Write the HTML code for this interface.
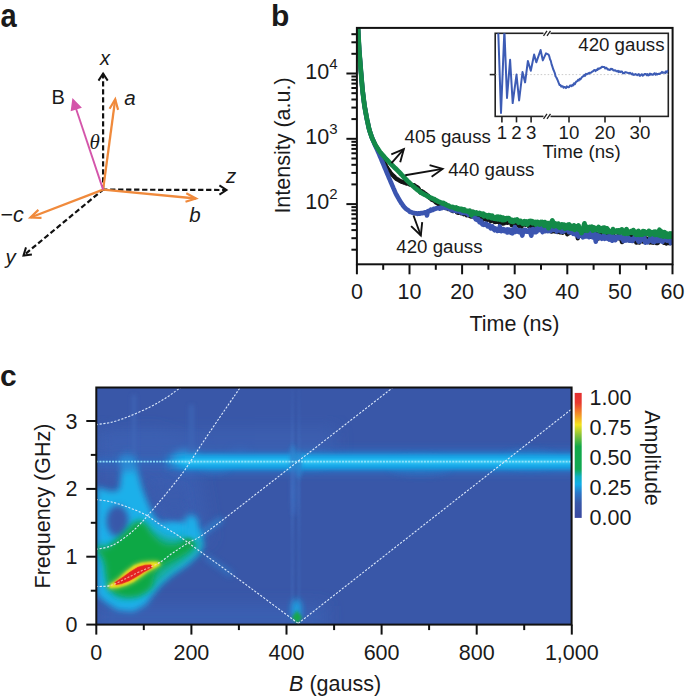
<!DOCTYPE html>
<html><head><meta charset="utf-8"><style>
html,body{margin:0;padding:0;background:#fff;width:685px;height:696px;overflow:hidden}
svg{display:block}
text{font-family:"Liberation Sans",sans-serif;fill:#1a1a1a}
</style></head><body>
<svg width="685" height="696" viewBox="0 0 685 696">
<defs>
<clipPath id="clipb"><rect x="356.9" y="27.9" width="315.70000000000005" height="236.4"/></clipPath>
<clipPath id="clipi"><rect x="495.2" y="33.3" width="173.09999999999997" height="83.10000000000001"/></clipPath>
<clipPath id="clipc"><rect x="96.3" y="387.5" width="475.3" height="237.10000000000002"/></clipPath>
</defs>
<line x1="103.1" y1="189.6" x2="103.1" y2="73.5" stroke="#111" stroke-width="2.2" stroke-dasharray="5.3,2.7" stroke-dashoffset="1"/>
<path d="M107.7,80.6 L103.1,73.5 L98.5,80.6" fill="none" stroke="#111" stroke-width="2" stroke-linejoin="miter" stroke-linecap="butt"/>
<line x1="103.1" y1="189.6" x2="226.5" y2="190" stroke="#111" stroke-width="2.2" stroke-dasharray="5.3,2.7" stroke-dashoffset="1"/>
<path d="M219.4,194.6 L226.5,190.0 L219.4,185.3" fill="none" stroke="#111" stroke-width="2" stroke-linejoin="miter" stroke-linecap="butt"/>
<line x1="103.1" y1="189.6" x2="23.5" y2="255.5" stroke="#111" stroke-width="2.2" stroke-dasharray="5.3,2.7" stroke-dashoffset="1"/>
<path d="M26.0,247.4 L23.5,255.5 L31.9,254.5" fill="none" stroke="#111" stroke-width="2" stroke-linejoin="miter" stroke-linecap="butt"/>
<line x1="103.1" y1="189.6" x2="115.2" y2="99.3" stroke="#f08a3c" stroke-width="2.3"/>
<path d="M118.1,109.9 L115.2,99.3 L109.6,108.8" fill="none" stroke="#f08a3c" stroke-width="2.2" stroke-linejoin="miter" stroke-linecap="butt"/>
<line x1="103.1" y1="189.6" x2="196" y2="198.5" stroke="#f08a3c" stroke-width="2.3"/>
<path d="M185.5,201.8 L196.0,198.5 L186.3,193.3" fill="none" stroke="#f08a3c" stroke-width="2.2" stroke-linejoin="miter" stroke-linecap="butt"/>
<line x1="103.1" y1="189.6" x2="30.5" y2="217.5" stroke="#f08a3c" stroke-width="2.3"/>
<path d="M38.4,209.9 L30.5,217.5 L41.5,217.9" fill="none" stroke="#f08a3c" stroke-width="2.2" stroke-linejoin="miter" stroke-linecap="butt"/>
<line x1="103.1" y1="189.6" x2="73.3" y2="100.5" stroke="#d455aa" stroke-width="1.9"/>
<path d="M80.4,107.3 L73.0,99.8 L71.6,110.2 Z" fill="#d455aa" stroke="#d455aa" stroke-width="1.6" stroke-linejoin="miter"/>
<text transform="translate(0.6,27) scale(0.97,1.12)" font-size="30" font-weight="bold">a</text>
<text x="100" y="64.5" font-size="20" text-anchor="start" font-style="italic">x</text>
<text x="51.5" y="103.5" font-size="20" text-anchor="start" >B</text>
<text x="124.3" y="104.5" font-size="20.5" text-anchor="start" font-style="italic">a</text>
<text x="89.5" y="149.3" style="font-family:'Liberation Serif',serif;font-style:italic;font-size:21px">θ</text>
<text x="226" y="182.5" font-size="20.5" text-anchor="start" font-style="italic">z</text>
<text x="189.3" y="222" font-size="20.5" text-anchor="start" font-style="italic">b</text>
<text x="0.5" y="221.5" font-size="21.5" text-anchor="start" >−<tspan font-style="italic">c</tspan></text>
<text x="5.5" y="264" font-size="20.5" text-anchor="start" font-style="italic">y</text>
<text x="271" y="25.5" font-size="30" text-anchor="start" font-weight="bold">b</text>
<line x1="356.9" y1="264.3" x2="356.9" y2="274.3" stroke="#111" stroke-width="2"/>
<text x="356.9" y="299.3" font-size="21.5" text-anchor="middle" >0</text>
<line x1="383.2" y1="264.3" x2="383.2" y2="269.8" stroke="#111" stroke-width="2"/>
<line x1="409.5" y1="264.3" x2="409.5" y2="274.3" stroke="#111" stroke-width="2"/>
<text x="409.5" y="299.3" font-size="21.5" text-anchor="middle" >10</text>
<line x1="435.8" y1="264.3" x2="435.8" y2="269.8" stroke="#111" stroke-width="2"/>
<line x1="462.1" y1="264.3" x2="462.1" y2="274.3" stroke="#111" stroke-width="2"/>
<text x="462.1" y="299.3" font-size="21.5" text-anchor="middle" >20</text>
<line x1="488.4" y1="264.3" x2="488.4" y2="269.8" stroke="#111" stroke-width="2"/>
<line x1="514.7" y1="264.3" x2="514.7" y2="274.3" stroke="#111" stroke-width="2"/>
<text x="514.7" y="299.3" font-size="21.5" text-anchor="middle" >30</text>
<line x1="541.0" y1="264.3" x2="541.0" y2="269.8" stroke="#111" stroke-width="2"/>
<line x1="567.3" y1="264.3" x2="567.3" y2="274.3" stroke="#111" stroke-width="2"/>
<text x="567.3" y="299.3" font-size="21.5" text-anchor="middle" >40</text>
<line x1="593.6" y1="264.3" x2="593.6" y2="269.8" stroke="#111" stroke-width="2"/>
<line x1="619.9" y1="264.3" x2="619.9" y2="274.3" stroke="#111" stroke-width="2"/>
<text x="619.9" y="299.3" font-size="21.5" text-anchor="middle" >50</text>
<line x1="646.2" y1="264.3" x2="646.2" y2="269.8" stroke="#111" stroke-width="2"/>
<line x1="672.5" y1="264.3" x2="672.5" y2="274.3" stroke="#111" stroke-width="2"/>
<text x="672.5" y="299.3" font-size="21.5" text-anchor="middle" >60</text>
<line x1="351.4" y1="249.7" x2="356.9" y2="249.7" stroke="#111" stroke-width="2"/>
<line x1="351.4" y1="238.2" x2="356.9" y2="238.2" stroke="#111" stroke-width="2"/>
<line x1="351.4" y1="230.1" x2="356.9" y2="230.1" stroke="#111" stroke-width="2"/>
<line x1="351.4" y1="223.8" x2="356.9" y2="223.8" stroke="#111" stroke-width="2"/>
<line x1="351.4" y1="218.6" x2="356.9" y2="218.6" stroke="#111" stroke-width="2"/>
<line x1="351.4" y1="214.2" x2="356.9" y2="214.2" stroke="#111" stroke-width="2"/>
<line x1="351.4" y1="210.4" x2="356.9" y2="210.4" stroke="#111" stroke-width="2"/>
<line x1="351.4" y1="207.1" x2="356.9" y2="207.1" stroke="#111" stroke-width="2"/>
<line x1="346.4" y1="204.1" x2="356.9" y2="204.1" stroke="#111" stroke-width="2"/>
<line x1="351.4" y1="184.4" x2="356.9" y2="184.4" stroke="#111" stroke-width="2"/>
<line x1="351.4" y1="172.9" x2="356.9" y2="172.9" stroke="#111" stroke-width="2"/>
<line x1="351.4" y1="164.8" x2="356.9" y2="164.8" stroke="#111" stroke-width="2"/>
<line x1="351.4" y1="158.5" x2="356.9" y2="158.5" stroke="#111" stroke-width="2"/>
<line x1="351.4" y1="153.3" x2="356.9" y2="153.3" stroke="#111" stroke-width="2"/>
<line x1="351.4" y1="148.9" x2="356.9" y2="148.9" stroke="#111" stroke-width="2"/>
<line x1="351.4" y1="145.1" x2="356.9" y2="145.1" stroke="#111" stroke-width="2"/>
<line x1="351.4" y1="141.8" x2="356.9" y2="141.8" stroke="#111" stroke-width="2"/>
<line x1="346.4" y1="138.8" x2="356.9" y2="138.8" stroke="#111" stroke-width="2"/>
<line x1="351.4" y1="119.1" x2="356.9" y2="119.1" stroke="#111" stroke-width="2"/>
<line x1="351.4" y1="107.6" x2="356.9" y2="107.6" stroke="#111" stroke-width="2"/>
<line x1="351.4" y1="99.5" x2="356.9" y2="99.5" stroke="#111" stroke-width="2"/>
<line x1="351.4" y1="93.2" x2="356.9" y2="93.2" stroke="#111" stroke-width="2"/>
<line x1="351.4" y1="88.0" x2="356.9" y2="88.0" stroke="#111" stroke-width="2"/>
<line x1="351.4" y1="83.6" x2="356.9" y2="83.6" stroke="#111" stroke-width="2"/>
<line x1="351.4" y1="79.8" x2="356.9" y2="79.8" stroke="#111" stroke-width="2"/>
<line x1="351.4" y1="76.5" x2="356.9" y2="76.5" stroke="#111" stroke-width="2"/>
<line x1="346.4" y1="73.5" x2="356.9" y2="73.5" stroke="#111" stroke-width="2"/>
<line x1="351.4" y1="53.8" x2="356.9" y2="53.8" stroke="#111" stroke-width="2"/>
<line x1="351.4" y1="42.3" x2="356.9" y2="42.3" stroke="#111" stroke-width="2"/>
<line x1="351.4" y1="34.2" x2="356.9" y2="34.2" stroke="#111" stroke-width="2"/>
<text x="305.3" y="78.5" font-size="21.5">10<tspan dy="-9.3" font-size="15">4</tspan></text>
<text x="305.3" y="143.5" font-size="21.5">10<tspan dy="-9.3" font-size="15">3</tspan></text>
<text x="305.3" y="208.5" font-size="21.5">10<tspan dy="-9.3" font-size="15">2</tspan></text>
<text x="514.5" y="330.7" font-size="21.5" text-anchor="middle" >Time (ns)</text>
<text transform="translate(289.5,145.5) rotate(-90)" font-size="21.5" text-anchor="middle">Intensity (a.u.)</text>
<g clip-path="url(#clipb)">
<polyline points="358.0,27.9 358.6,39.0 359.2,50.0 359.8,57.5 360.4,65.0 361.0,72.4 361.6,79.4 362.2,86.5 362.8,92.4 363.4,97.1 364.0,101.9 364.6,106.4 365.2,109.7 365.8,113.0 366.4,116.3 367.0,119.4 367.6,122.1 368.2,124.9 368.8,127.7 369.4,130.1 370.0,131.9 370.6,133.8 371.2,135.6 371.8,137.4 372.4,138.8 373.0,140.1 373.6,141.3 374.2,142.6 374.8,143.8 375.4,145.1 376.0,146.2 376.6,147.2 377.2,148.3 377.8,149.4 378.4,150.4 379.0,151.5 379.6,152.7 380.2,154.0 380.8,155.2 381.4,156.5 382.0,157.7 382.6,158.9 383.2,160.1 383.8,161.3 384.4,162.6 385.0,163.8 385.6,165.0 386.2,166.2 386.8,167.3 387.4,168.2 388.0,169.1 388.6,170.0 389.2,170.8 389.8,171.7 390.4,172.6 391.0,173.5 391.6,174.1 392.2,174.7 392.8,175.3 393.4,175.9 394.0,176.5 394.6,177.0 395.2,177.7 395.8,178.3 396.4,178.8 397.0,179.2 397.6,179.4 398.2,179.8 398.8,180.1 399.4,180.6 400.0,180.9 400.8,181.2 401.5,181.7 402.3,181.8 403.0,182.1 403.8,182.5 404.5,182.5 405.3,182.9 406.0,183.3 406.8,183.6 407.5,183.6 408.3,183.6 409.0,183.8 409.8,184.4 410.5,184.7 411.3,184.8 412.0,185.0 412.8,185.4 413.5,185.3 414.3,185.3 415.0,185.9 415.8,186.6 416.5,186.9 417.3,187.2 418.0,187.9 418.8,189.0 419.5,191.1 420.3,192.4 421.0,191.3 421.8,191.2 422.5,192.1 423.3,192.1 424.0,192.8 424.8,194.0 425.5,193.8 426.3,194.4 427.0,195.4 427.8,195.4 428.5,196.4 429.3,197.7 430.0,197.8 430.8,198.6 431.5,199.5 432.3,200.1 433.0,200.1 433.8,200.4 434.5,200.9 435.3,201.8 436.0,202.6 436.8,202.7 437.5,203.5 438.3,203.8 439.0,204.9 439.8,204.7 440.5,205.2 441.3,206.2 442.0,205.9 442.8,205.6 443.5,206.3 444.3,207.4 445.0,206.4 445.8,207.5 446.5,207.8 447.3,208.1 448.0,209.0 448.8,208.2 449.5,208.4 450.3,209.3 451.0,209.2 451.8,210.5 452.5,210.8 453.3,211.1 454.0,210.1 454.8,210.6 455.5,210.1 456.3,210.8 457.0,212.4 457.8,212.6 458.5,212.8 459.3,211.5 460.0,211.6 460.8,212.7 461.5,213.4 462.3,213.2 463.0,212.1 463.8,214.2 464.5,214.0 465.3,212.9 466.0,213.5 466.8,215.2 467.5,214.0 468.3,215.0 469.0,213.8 469.8,215.9 470.5,214.2 471.3,216.5 472.0,215.1 472.8,211.8 473.5,216.0 474.3,215.9 475.0,217.1 475.8,215.8 476.5,216.0 477.3,216.3 478.0,216.1 478.8,216.8 479.5,217.6 480.3,217.3 481.0,217.7 481.8,220.9 482.5,218.8 483.3,219.0 484.0,217.3 484.8,217.4 485.5,219.2 486.3,218.8 487.0,220.1 487.8,218.2 488.5,218.1 489.3,218.0 490.0,218.3 490.8,221.2 491.5,219.0 492.3,220.1 493.0,220.3 493.8,220.5 494.5,221.9 495.3,222.0 496.0,220.7 496.8,220.7 497.5,221.8 498.3,220.4 499.0,220.3 499.8,223.2 500.5,221.4 501.3,220.8 502.0,223.0 502.8,223.6 503.5,223.0 504.3,223.2 505.0,222.3 505.8,222.2 506.5,222.4 507.3,222.8 508.0,222.6 508.8,222.4 509.5,221.9 510.3,222.4 511.0,221.9 511.8,225.1 512.5,224.7 513.3,225.1 514.0,225.6 514.8,224.2 515.5,224.1 516.3,223.4 517.0,223.1 517.8,220.6 518.5,225.8 519.3,226.1 520.0,226.3 520.8,224.3 521.5,226.8 522.3,223.6 523.0,224.2 523.8,224.0 524.5,224.2 525.3,224.8 526.0,224.8 526.8,224.5 527.5,223.9 528.3,224.0 529.0,226.4 529.8,226.2 530.5,224.7 531.3,226.3 532.0,228.1 532.8,226.8 533.5,229.0 534.3,228.5 535.0,227.8 535.8,226.6 536.5,225.7 537.3,228.6 538.0,226.1 538.8,229.3 539.5,228.7 540.3,226.8 541.0,228.0 541.8,228.0 542.5,230.5 543.3,228.7 544.0,230.8 544.8,231.1 545.5,227.0 546.3,229.7 547.0,230.4 547.8,230.7 548.5,229.7 549.3,228.5 550.0,227.7 550.8,231.3 551.5,231.6 552.3,230.4 553.0,231.1 553.8,229.2 554.5,228.6 555.3,231.4 556.0,230.2 556.8,230.6 557.5,231.9 558.3,229.3 559.0,229.1 559.8,232.3 560.5,232.4 561.3,228.4 562.0,229.3 562.8,232.7 563.5,231.8 564.3,229.8 565.0,230.8 565.8,230.9 566.5,230.7 567.3,234.3 568.0,231.7 568.8,233.2 569.5,232.9 570.3,230.6 571.0,231.4 571.8,231.8 572.5,230.5 573.3,231.8 574.0,233.8 574.8,232.0 575.5,232.9 576.3,231.4 577.0,231.9 577.8,238.3 578.5,231.5 579.3,235.8 580.0,233.1 580.8,235.7 581.5,231.9 582.3,232.8 583.0,234.4 583.8,233.0 584.5,233.5 585.3,235.9 586.0,232.7 586.8,235.2 587.5,235.5 588.3,234.0 589.0,233.8 589.8,234.0 590.5,236.8 591.3,232.6 592.0,233.8 592.8,234.5 593.5,233.2 594.3,236.4 595.0,234.3 595.8,236.1 596.5,233.9 597.3,235.3 598.0,236.9 598.8,238.4 599.5,237.7 600.3,236.1 601.0,233.9 601.8,235.8 602.5,236.8 603.3,234.2 604.0,234.6 604.8,235.7 605.5,237.6 606.3,235.5 607.0,235.7 607.8,236.3 608.5,235.3 609.3,238.8 610.0,235.7 610.8,239.3 611.5,235.5 612.3,235.3 613.0,235.4 613.8,236.2 614.5,239.1 615.3,237.0 616.0,237.6 616.8,236.8 617.5,236.6 618.3,235.9 619.0,238.3 619.8,236.5 620.5,236.8 621.3,239.0 622.0,242.1 622.8,240.1 623.5,240.4 624.3,236.2 625.0,240.2 625.8,238.1 626.5,239.6 627.3,236.8 628.0,236.6 628.8,239.4 629.5,240.4 630.3,236.9 631.0,237.5 631.8,239.4 632.5,237.1 633.3,239.5 634.0,237.1 634.8,239.1 635.5,238.5 636.3,242.6 637.0,241.4 637.8,238.4 638.5,238.1 639.3,242.5 640.0,240.3 640.8,237.3 641.5,240.3 642.3,238.5 643.0,241.6 643.8,237.6 644.5,239.4 645.3,238.4 646.0,241.0 646.8,238.6 647.5,239.1 648.3,238.8 649.0,241.3 649.8,242.3 650.5,238.8 651.3,239.9 652.0,242.4 652.8,239.9 653.5,242.7 654.3,238.5 655.0,240.1 655.8,242.4 656.5,243.0 657.3,240.0 658.0,242.9 658.8,238.8 659.5,240.4 660.3,240.3 661.0,238.8 661.8,240.5 662.5,239.5 663.3,239.9 664.0,242.8 664.8,241.1 665.5,241.3 666.3,243.4 667.0,240.9 667.8,239.5 668.5,243.1 669.3,236.6 670.0,243.2 670.8,240.5 671.5,242.4 672.3,241.2 673.0,239.9" fill="none" stroke="#141414" stroke-width="4.4" stroke-linejoin="round"/>
<polyline points="358.0,27.9 358.6,39.0 359.2,50.0 359.8,57.5 360.4,65.0 361.0,72.4 361.6,79.4 362.2,86.5 362.8,92.4 363.4,97.1 364.0,101.9 364.6,106.4 365.2,109.7 365.8,113.0 366.4,116.3 367.0,119.4 367.6,122.1 368.2,124.9 368.8,127.7 369.4,130.1 370.0,131.9 370.6,133.8 371.2,135.5 371.8,137.1 372.4,138.6 373.0,140.1 373.6,141.7 374.2,143.2 374.8,144.7 375.4,146.0 376.0,147.3 376.6,148.6 377.2,149.9 377.8,151.2 378.4,152.5 379.0,153.9 379.6,155.3 380.2,156.8 380.8,158.2 381.4,159.6 382.0,161.1 382.6,162.5 383.2,163.9 383.8,165.4 384.4,166.8 385.0,168.3 385.6,169.7 386.2,171.1 386.8,172.6 387.4,174.0 388.0,175.4 388.6,176.8 389.2,178.3 389.8,179.7 390.4,181.1 391.0,182.5 391.6,183.9 392.2,185.3 392.8,186.7 393.4,188.1 394.0,189.4 394.6,190.8 395.2,192.2 395.8,193.5 396.4,194.7 397.0,195.8 397.6,196.8 398.2,197.9 398.8,199.0 399.4,200.0 400.0,201.0 400.8,202.3 401.5,203.4 402.3,204.3 403.0,205.5 403.8,206.5 404.5,207.4 405.3,208.1 406.0,208.8 406.8,209.4 407.5,209.9 408.3,210.3 409.0,210.9 409.8,211.9 410.5,211.9 411.3,212.3 412.0,212.3 412.8,212.9 413.5,213.1 414.3,213.0 415.0,213.2 415.8,213.5 416.5,213.4 417.3,213.9 418.0,213.2 418.8,213.3 419.5,213.7 420.3,213.5 421.0,213.1 421.8,213.3 422.5,213.3 423.3,212.9 424.0,213.0 424.8,212.3 425.5,212.4 426.3,212.2 427.0,215.4 427.8,211.3 428.5,210.9 429.3,210.7 430.0,210.9 430.8,209.8 431.5,210.4 432.3,209.6 433.0,209.9 433.8,208.7 434.5,208.8 435.3,209.0 436.0,208.2 436.8,208.4 437.5,208.2 438.3,208.0 439.0,208.0 439.8,208.6 440.5,207.7 441.3,208.2 442.0,206.9 442.8,207.5 443.5,207.3 444.3,207.4 445.0,206.8 445.8,208.1 446.5,207.3 447.3,208.0 448.0,207.7 448.8,208.6 449.5,208.0 450.3,209.5 451.0,208.5 451.8,210.2 452.5,209.5 453.3,210.5 454.0,210.7 454.8,210.7 455.5,210.8 456.3,210.2 457.0,211.3 457.8,210.3 458.5,211.1 459.3,210.5 460.0,212.0 460.8,210.7 461.5,212.6 462.3,213.0 463.0,212.7 463.8,213.0 464.5,212.7 465.3,212.9 466.0,213.2 466.8,212.4 467.5,213.8 468.3,214.7 469.0,214.1 469.8,214.4 470.5,213.7 471.3,213.8 472.0,215.4 472.8,216.3 473.5,217.1 474.3,217.1 475.0,217.6 475.8,219.4 476.5,219.7 477.3,220.0 478.0,219.0 478.8,220.4 479.5,222.2 480.3,222.4 481.0,220.8 481.8,223.4 482.5,224.4 483.3,224.8 484.0,224.3 484.8,223.7 485.5,224.9 486.3,223.7 487.0,224.4 487.8,226.4 488.5,225.0 489.3,225.2 490.0,227.2 490.8,228.3 491.5,227.6 492.3,226.3 493.0,228.4 493.8,229.3 494.5,230.2 495.3,228.4 496.0,228.9 496.8,230.3 497.5,230.9 498.3,230.6 499.0,230.7 499.8,226.4 500.5,229.5 501.3,231.1 502.0,230.2 502.8,230.7 503.5,229.1 504.3,231.2 505.0,231.1 505.8,230.7 506.5,229.7 507.3,232.5 508.0,229.4 508.8,232.2 509.5,229.7 510.3,232.2 511.0,232.8 511.8,229.8 512.5,233.3 513.3,232.1 514.0,231.9 514.8,227.1 515.5,231.9 516.3,230.6 517.0,229.5 517.8,230.1 518.5,232.0 519.3,232.1 520.0,230.0 520.8,230.5 521.5,233.0 522.3,235.6 523.0,232.3 523.8,232.2 524.5,229.8 525.3,229.8 526.0,230.2 526.8,231.8 527.5,231.8 528.3,231.0 529.0,232.0 529.8,229.6 530.5,232.8 531.3,235.7 532.0,232.4 532.8,229.0 533.5,232.3 534.3,229.7 535.0,229.6 535.8,232.2 536.5,231.8 537.3,229.9 538.0,224.1 538.8,230.2 539.5,228.4 540.3,227.6 541.0,224.5 541.8,230.2 542.5,232.0 543.3,227.1 544.0,230.2 544.8,227.1 545.5,231.1 546.3,227.7 547.0,229.3 547.8,231.1 548.5,230.1 549.3,227.7 550.0,226.5 550.8,231.0 551.5,226.7 552.3,229.6 553.0,227.1 553.8,229.9 554.5,228.3 555.3,228.5 556.0,227.0 556.8,231.6 557.5,230.1 558.3,228.5 559.0,227.8 559.8,229.0 560.5,230.1 561.3,231.8 562.0,231.7 562.8,227.5 563.5,231.6 564.3,227.7 565.0,230.4 565.8,228.9 566.5,229.9 567.3,229.5 568.0,229.8 568.8,232.1 569.5,229.2 570.3,229.1 571.0,232.5 571.8,232.2 572.5,231.2 573.3,233.9 574.0,230.6 574.8,231.1 575.5,232.5 576.3,234.9 577.0,234.8 577.8,233.1 578.5,236.7 579.3,233.0 580.0,232.8 580.8,232.2 581.5,234.5 582.3,233.6 583.0,237.3 583.8,235.3 584.5,235.3 585.3,234.6 586.0,236.5 586.8,234.7 587.5,233.0 588.3,233.2 589.0,237.2 589.8,235.6 590.5,233.1 591.3,234.0 592.0,234.0 592.8,237.4 593.5,237.4 594.3,233.0 595.0,236.8 595.8,241.7 596.5,236.2 597.3,234.8 598.0,238.3 598.8,236.7 599.5,236.0 600.3,237.7 601.0,238.1 601.8,238.7 602.5,237.7 603.3,236.1 604.0,235.1 604.8,238.8 605.5,238.2 606.3,237.2 607.0,238.4 607.8,238.8 608.5,236.4 609.3,239.6 610.0,238.2 610.8,235.9 611.5,236.6 612.3,240.7 613.0,236.3 613.8,238.6 614.5,238.5 615.3,240.2 616.0,238.1 616.8,237.0 617.5,238.0 618.3,236.6 619.0,237.9 619.8,237.5 620.5,236.2 621.3,238.3 622.0,238.0 622.8,237.3 623.5,241.1 624.3,237.4 625.0,238.3 625.8,237.0 626.5,240.5 627.3,238.8 628.0,237.5 628.8,238.2 629.5,240.7 630.3,238.9 631.0,239.3 631.8,240.8 632.5,241.0 633.3,238.5 634.0,238.8 634.8,236.6 635.5,238.1 636.3,238.2 637.0,238.9 637.8,240.1 638.5,241.6 639.3,237.1 640.0,241.5 640.8,237.6 641.5,236.8 642.3,238.0 643.0,238.4 643.8,240.0 644.5,238.1 645.3,242.7 646.0,242.1 646.8,241.8 647.5,242.3 648.3,241.8 649.0,240.4 649.8,239.7 650.5,237.6 651.3,240.7 652.0,237.9 652.8,241.6 653.5,240.2 654.3,242.0 655.0,238.6 655.8,240.5 656.5,238.2 657.3,241.1 658.0,239.0 658.8,239.7 659.5,241.0 660.3,239.4 661.0,237.7 661.8,241.4 662.5,241.8 663.3,240.2 664.0,238.4 664.8,239.9 665.5,238.2 666.3,239.5 667.0,240.7 667.8,239.3 668.5,239.2 669.3,239.4 670.0,240.5 670.8,243.1 671.5,239.8 672.3,240.6 673.0,239.0" fill="none" stroke="#3b55b0" stroke-width="4.6" stroke-linejoin="round"/>
<polyline points="358.0,27.9 358.6,39.0 359.2,50.0 359.8,57.5 360.4,65.0 361.0,72.4 361.6,79.4 362.2,86.5 362.8,92.4 363.4,97.1 364.0,101.9 364.6,106.4 365.2,109.7 365.8,113.0 366.4,116.3 367.0,119.4 367.6,122.1 368.2,124.9 368.8,127.7 369.4,130.1 370.0,131.9 370.6,133.8 371.2,135.6 371.8,137.4 372.4,138.8 373.0,140.1 373.6,141.3 374.2,142.6 374.8,143.8 375.4,145.1 376.0,146.0 376.6,146.9 377.2,147.8 377.8,148.7 378.4,149.6 379.0,150.5 379.6,151.4 380.2,152.2 380.8,152.9 381.4,153.6 382.0,154.3 382.6,155.0 383.2,155.6 383.8,156.3 384.4,157.0 385.0,157.7 385.6,158.4 386.2,159.0 386.8,159.7 387.4,160.3 388.0,160.9 388.6,161.5 389.2,162.1 389.8,162.8 390.4,163.4 391.0,164.0 391.6,164.6 392.2,165.2 392.8,165.8 393.4,166.4 394.0,167.0 394.6,167.6 395.2,168.2 395.8,168.7 396.4,169.3 397.0,169.9 397.6,170.5 398.2,171.1 398.8,171.7 399.4,172.3 400.0,173.0 400.8,173.8 401.5,174.6 402.3,175.4 403.0,176.2 403.8,177.0 404.5,177.8 405.3,178.6 406.0,179.4 406.8,180.2 407.5,181.0 408.3,181.7 409.0,182.4 409.8,183.1 410.5,183.8 411.3,184.5 412.0,185.2 412.8,185.9 413.5,186.6 414.3,187.2 415.0,188.0 415.8,188.5 416.5,189.1 417.3,189.6 418.0,190.3 418.8,190.7 419.5,191.4 420.3,191.9 421.0,192.7 421.8,193.0 422.5,193.5 423.3,193.9 424.0,194.5 424.8,194.6 425.5,194.9 426.3,195.5 427.0,195.9 427.8,196.4 428.5,196.6 429.3,196.9 430.0,197.5 430.8,198.0 431.5,197.9 432.3,198.5 433.0,198.8 433.8,199.3 434.5,199.2 435.3,200.3 436.0,200.1 436.8,200.7 437.5,201.1 438.3,201.6 439.0,201.6 439.8,202.2 440.5,202.5 441.3,202.7 442.0,203.1 442.8,203.6 443.5,203.0 444.3,204.2 445.0,204.3 445.8,204.2 446.5,205.3 447.3,205.2 448.0,205.9 448.8,205.6 449.5,206.5 450.3,206.8 451.0,206.9 451.8,207.2 452.5,206.8 453.3,207.2 454.0,207.8 454.8,208.2 455.5,208.5 456.3,207.5 457.0,208.9 457.8,209.3 458.5,208.6 459.3,209.4 460.0,209.0 460.8,209.0 461.5,208.9 462.3,210.1 463.0,209.5 463.8,210.7 464.5,209.6 465.3,211.0 466.0,211.1 466.8,210.9 467.5,211.0 468.3,211.7 469.0,212.3 469.8,210.7 470.5,212.2 471.3,215.2 472.0,212.0 472.8,212.9 473.5,212.0 474.3,213.5 475.0,212.9 475.8,213.3 476.5,212.6 477.3,213.9 478.0,213.8 478.8,213.9 479.5,213.0 480.3,213.9 481.0,214.7 481.8,213.8 482.5,214.4 483.3,213.8 484.0,216.3 484.8,215.3 485.5,214.9 486.3,215.5 487.0,216.5 487.8,217.2 488.5,215.1 489.3,215.6 490.0,215.5 490.8,217.7 491.5,218.0 492.3,215.8 493.0,216.8 493.8,218.5 494.5,217.5 495.3,218.7 496.0,217.3 496.8,216.8 497.5,219.2 498.3,216.7 499.0,217.7 499.8,219.4 500.5,217.0 501.3,219.1 502.0,220.0 502.8,217.6 503.5,220.1 504.3,218.3 505.0,219.8 505.8,218.6 506.5,218.1 507.3,218.4 508.0,218.4 508.8,218.1 509.5,218.8 510.3,221.3 511.0,221.5 511.8,221.4 512.5,220.1 513.3,221.9 514.0,221.0 514.8,220.1 515.5,220.7 516.3,219.7 517.0,219.5 517.8,221.4 518.5,222.6 519.3,221.1 520.0,220.8 520.8,221.1 521.5,221.8 522.3,223.4 523.0,223.8 523.8,223.6 524.5,221.3 525.3,221.7 526.0,221.5 526.8,224.5 527.5,224.4 528.3,222.0 529.0,221.2 529.8,222.2 530.5,221.1 531.3,222.5 532.0,221.2 532.8,223.3 533.5,223.0 534.3,222.2 535.0,221.9 535.8,224.5 536.5,222.3 537.3,221.9 538.0,223.6 538.8,222.5 539.5,224.6 540.3,224.2 541.0,222.0 541.8,223.5 542.5,222.1 543.3,223.3 544.0,225.7 544.8,222.1 545.5,224.2 546.3,223.3 547.0,225.9 547.8,223.1 548.5,228.2 549.3,226.8 550.0,224.2 550.8,225.1 551.5,222.2 552.3,220.4 553.0,222.0 553.8,226.4 554.5,223.2 555.3,223.8 556.0,223.7 556.8,224.2 557.5,226.1 558.3,223.6 559.0,227.2 559.8,227.7 560.5,226.0 561.3,226.0 562.0,224.5 562.8,225.4 563.5,227.0 564.3,224.8 565.0,228.6 565.8,225.5 566.5,227.7 567.3,226.5 568.0,224.7 568.8,228.0 569.5,224.5 570.3,228.5 571.0,226.0 571.8,227.0 572.5,228.8 573.3,229.0 574.0,225.4 574.8,229.8 575.5,226.4 576.3,228.3 577.0,227.9 577.8,227.5 578.5,225.5 579.3,230.2 580.0,230.1 580.8,229.5 581.5,233.0 582.3,230.1 583.0,228.8 583.8,226.0 584.5,223.4 585.3,230.5 586.0,227.5 586.8,226.7 587.5,230.7 588.3,227.5 589.0,228.8 589.8,226.9 590.5,227.8 591.3,227.8 592.0,226.9 592.8,230.6 593.5,229.3 594.3,227.6 595.0,228.9 595.8,229.7 596.5,228.3 597.3,228.0 598.0,228.8 598.8,227.1 599.5,231.2 600.3,229.8 601.0,228.6 601.8,228.7 602.5,228.1 603.3,231.6 604.0,227.7 604.8,229.6 605.5,228.1 606.3,232.2 607.0,228.4 607.8,229.4 608.5,230.7 609.3,231.8 610.0,231.4 610.8,231.6 611.5,231.8 612.3,232.5 613.0,229.2 613.8,230.6 614.5,231.0 615.3,232.1 616.0,231.3 616.8,230.6 617.5,231.9 618.3,230.4 619.0,230.4 619.8,232.4 620.5,231.1 621.3,229.6 622.0,229.5 622.8,231.6 623.5,233.3 624.3,233.0 625.0,233.6 625.8,231.1 626.5,229.2 627.3,231.9 628.0,233.7 628.8,231.9 629.5,231.8 630.3,232.7 631.0,231.2 631.8,231.2 632.5,232.8 633.3,230.1 634.0,231.6 634.8,232.5 635.5,234.4 636.3,232.0 637.0,234.7 637.8,232.5 638.5,230.9 639.3,234.8 640.0,232.6 640.8,234.5 641.5,234.2 642.3,234.6 643.0,231.1 643.8,232.9 644.5,231.4 645.3,233.6 646.0,232.3 646.8,233.7 647.5,232.7 648.3,232.3 649.0,230.9 649.8,234.9 650.5,234.2 651.3,233.4 652.0,232.3 652.8,233.7 653.5,233.9 654.3,231.8 655.0,234.9 655.8,231.8 656.5,233.9 657.3,234.4 658.0,234.9 658.8,232.3 659.5,229.8 660.3,235.8 661.0,232.0 661.8,231.7 662.5,236.1 663.3,236.5 664.0,234.9 664.8,232.2 665.5,236.2 666.3,236.5 667.0,233.7 667.8,236.9 668.5,236.9 669.3,234.2 670.0,233.5 670.8,236.7 671.5,236.3 672.3,233.4 673.0,233.5" fill="none" stroke="#138a48" stroke-width="4.8" stroke-linejoin="round"/>
</g>
<rect x="356.9" y="27.9" width="315.70000000000005" height="236.4" fill="none" stroke="#111" stroke-width="2"/>
<line x1="391.5" y1="163.2" x2="403.8" y2="149.2" stroke="#111" stroke-width="1.9"/>
<path d="M400.2,162.2 L403.8,149.2 L391.3,154.4" fill="none" stroke="#111" stroke-width="1.9" stroke-linejoin="miter" stroke-linecap="butt"/>
<line x1="405.2" y1="175.3" x2="442.6" y2="168.9" stroke="#111" stroke-width="1.9"/>
<path d="M431.6,176.8 L442.6,168.9 L429.6,165.1" fill="none" stroke="#111" stroke-width="1.9" stroke-linejoin="miter" stroke-linecap="butt"/>
<line x1="413.5" y1="215.5" x2="420.8" y2="235.5" stroke="#111" stroke-width="1.9"/>
<path d="M411.1,226.1 L420.8,235.5 L422.2,222.1" fill="none" stroke="#111" stroke-width="1.9" stroke-linejoin="miter" stroke-linecap="butt"/>
<text x="404.6" y="143" font-size="18.7" text-anchor="start" >405 gauss</text>
<text x="448.2" y="176" font-size="18.7" text-anchor="start" >440 gauss</text>
<text x="396.3" y="253.3" font-size="18.7" text-anchor="start" >420 gauss</text>
<rect x="495.2" y="33.3" width="173.09999999999997" height="83.10000000000001" fill="#fff" stroke="#222" stroke-width="1.6"/>
<line x1="495.2" y1="74.6" x2="668.3" y2="74.6" stroke="#bbb" stroke-width="0.8" stroke-dasharray="1.5,2"/>
<line x1="489.7" y1="74.6" x2="495.2" y2="74.6" stroke="#222" stroke-width="1.6"/>
<line x1="501.9" y1="116.4" x2="501.9" y2="122.4" stroke="#222" stroke-width="1.6"/>
<text x="501.9" y="139.2" font-size="18.7" text-anchor="middle" >1</text>
<line x1="516.5" y1="116.4" x2="516.5" y2="122.4" stroke="#222" stroke-width="1.6"/>
<text x="516.5" y="139.2" font-size="18.7" text-anchor="middle" >2</text>
<line x1="531.1" y1="116.4" x2="531.1" y2="122.4" stroke="#222" stroke-width="1.6"/>
<text x="531.1" y="139.2" font-size="18.7" text-anchor="middle" >3</text>
<line x1="569" y1="116.4" x2="569" y2="122.4" stroke="#222" stroke-width="1.6"/>
<text x="569" y="139.2" font-size="18.7" text-anchor="middle" >10</text>
<line x1="605" y1="116.4" x2="605" y2="122.4" stroke="#222" stroke-width="1.6"/>
<text x="605" y="139.2" font-size="18.7" text-anchor="middle" >20</text>
<line x1="640" y1="116.4" x2="640" y2="122.4" stroke="#222" stroke-width="1.6"/>
<text x="640" y="139.2" font-size="18.7" text-anchor="middle" >30</text>
<text x="581.5" y="158" font-size="18.7" text-anchor="middle" >Time (ns)</text>
<text x="664.5" y="51" font-size="18.7" text-anchor="end" >420 gauss</text>
<rect x="543.5" y="30.299999999999997" width="7" height="6" fill="#fff"/>
<path d="M543.5,35.8 L547,30.799999999999997 M547,35.8 L550.5,30.799999999999997" stroke="#222" stroke-width="1.3"/>
<rect x="543.5" y="113.4" width="7" height="6" fill="#fff"/>
<path d="M543.5,118.9 L547,113.9 M547,118.9 L550.5,113.9" stroke="#222" stroke-width="1.3"/>
<g clip-path="url(#clipi)"><polyline points="498.2,30.0 501.0,113.0 504.4,30.0 507.0,97.9 510.1,59.8 512.7,103.1 516.5,74.6 519.1,100.5 522.5,72.0 525.1,82.4 527.9,61.0 530.8,70.7 534.1,54.6 536.3,62.3 540.6,50.0 542.8,60.4 546.0,53.3 548.6,54.6 549.2,56.1 550.0,59.2 550.8,60.9 551.6,64.4 552.4,66.6 553.2,69.3 554.0,71.0 554.8,73.1 555.6,76.5 556.4,77.5 557.2,79.2 558.0,81.1 558.8,83.2 559.6,85.1 560.4,85.0 561.2,86.6 562.0,86.3 562.8,86.3 563.6,87.7 564.4,86.9 565.2,87.2 566.0,88.1 566.8,86.4 567.6,86.8 568.4,87.3 569.2,87.0 570.0,85.5 570.8,85.6 571.6,86.1 572.4,84.9 573.2,85.5 574.0,83.3 574.8,84.2 575.6,82.6 576.4,81.4 577.2,81.2 578.0,79.9 578.8,80.4 579.6,78.9 580.4,79.5 581.2,78.2 582.0,77.2 582.8,76.3 583.6,76.3 584.4,74.9 585.2,75.7 586.0,73.8 586.8,74.2 587.6,73.9 588.4,73.1 589.2,73.7 590.0,72.6 590.8,72.8 591.6,72.2 592.4,71.4 593.2,71.2 594.0,70.2 594.8,70.1 595.6,71.1 596.4,69.7 597.2,70.0 598.0,68.5 598.8,69.1 599.6,68.3 600.4,68.3 601.2,67.5 602.0,66.7 602.8,67.0 603.6,67.0 604.4,67.0 605.2,68.4 606.0,67.7 606.8,68.2 607.6,69.4 608.4,69.3 609.2,69.8 610.0,69.9 610.8,68.7 611.6,69.2 612.4,68.9 613.2,70.4 614.0,70.6 614.8,70.2 615.6,70.5 616.4,71.2 617.2,71.4 618.0,70.7 618.8,72.1 619.6,71.3 620.4,72.1 621.2,71.4 622.0,71.4 622.8,73.2 623.6,73.1 624.4,73.2 625.2,72.1 626.0,72.3 626.8,72.6 627.6,72.8 628.4,73.1 629.2,73.4 630.0,72.8 630.8,73.5 631.6,74.2 632.4,73.4 633.2,74.9 634.0,74.4 634.8,74.8 635.6,74.0 636.4,74.5 637.2,75.1 638.0,74.5 638.8,74.0 639.6,75.7 640.4,75.7 641.2,74.7 642.0,74.2 642.8,75.7 643.6,75.2 644.4,74.0 645.2,74.3 646.0,74.0 646.8,75.3 647.6,74.0 648.4,75.4 649.2,75.0 650.0,73.6 650.8,74.7 651.6,74.1 652.4,74.7 653.2,74.8 654.0,73.6 654.8,73.2 655.6,74.8 656.4,73.6 657.2,74.5 658.0,73.9 658.8,73.8 659.6,73.9 660.4,73.3 661.2,72.8 662.0,71.9 662.8,73.0 663.6,72.4 664.4,72.4 665.2,73.1 666.0,71.4 666.8,72.5 667.6,70.9 668.4,72.1" fill="none" stroke="#3d5cb5" stroke-width="2" stroke-linejoin="round"/></g>
<text x="0" y="386" font-size="30" text-anchor="start" font-weight="bold">c</text>
<g id="heat"><defs>
<filter id="b07" x="-50%" y="-50%" width="200%" height="200%"><feGaussianBlur stdDeviation="0.7"/></filter>
<filter id="b1" x="-50%" y="-50%" width="200%" height="200%"><feGaussianBlur stdDeviation="1.0"/></filter>
<filter id="b15" x="-50%" y="-50%" width="200%" height="200%"><feGaussianBlur stdDeviation="1.5"/></filter>
<filter id="b2" x="-50%" y="-50%" width="200%" height="200%"><feGaussianBlur stdDeviation="2.2"/></filter>
<filter id="b3" x="-50%" y="-50%" width="200%" height="200%"><feGaussianBlur stdDeviation="3.2"/></filter>
<filter id="b4" x="-50%" y="-50%" width="200%" height="200%"><feGaussianBlur stdDeviation="4.2"/></filter>
<filter id="b5" x="-50%" y="-50%" width="200%" height="200%"><feGaussianBlur stdDeviation="5.5"/></filter>
<filter id="b8" x="-50%" y="-50%" width="200%" height="200%"><feGaussianBlur stdDeviation="8"/></filter>
</defs>
<g clip-path="url(#clipc)">
<rect x="96.3" y="387.5" width="475.3" height="237.10000000000002" fill="#3957a8"/>
<g filter="url(#b8)">
<rect x="96" y="606" width="230" height="22" fill="#3b60b3"/>
<path d="M97,440 L150,430 L200,445 L200,480 L150,485 L97,480 Z" fill="#3b5db0"/>
<path d="M150,480 L200,480 L210,540 L180,545 L150,520 Z" fill="#3a5db0"/>
</g>
<linearGradient id="bandfade" gradientUnits="userSpaceOnUse" x1="163" y1="0" x2="186" y2="0"><stop offset="0" stop-opacity="0" stop-color="#fff"/><stop offset="1" stop-opacity="1" stop-color="#fff"/></linearGradient>
<mask id="bandmask"><rect x="96" y="380" width="480" height="250" fill="url(#bandfade)"/></mask>
<g filter="url(#b4)">
<rect x="150" y="450.712" width="436" height="22" fill="#2a72c4" mask="url(#bandmask)"/>
</g>
<g filter="url(#b3)">
<ellipse cx="186" cy="455.712" rx="13" ry="8" fill="#2a96dc"/>
<ellipse cx="128" cy="457.712" rx="5" ry="8" fill="#2a7cc8" opacity="0.8"/>
<rect x="96" y="456.712" width="75" height="10" fill="#2f6cc0" opacity="0.7"/>
</g>
<g filter="url(#b4)" opacity="0.9">
<ellipse cx="310" cy="458.712" rx="22" ry="9" fill="#2a78c6"/>
<ellipse cx="215" cy="464.712" rx="14" ry="7" fill="#2a78c6"/>
<ellipse cx="420" cy="465.712" rx="30" ry="8" fill="#2a74c4"/>
<ellipse cx="530" cy="459.712" rx="25" ry="8" fill="#2a74c4"/>
<ellipse cx="240" cy="453.712" rx="10" ry="6" fill="#2f6cc0"/>
</g>
<g filter="url(#b8)" opacity="0.7">
<rect x="96" y="428" width="240" height="26" fill="#3d62b4"/>
</g>
<g filter="url(#b2)" opacity="0.8">
<rect x="132" y="395" width="4" height="60" fill="#4068b8"/>
<rect x="189" y="405" width="5" height="50" fill="#3e66b8"/>
</g>
<g filter="url(#b2)">
<rect x="150" y="454.412" width="432" height="14.6" fill="#12aaea" mask="url(#bandmask)"/>
</g>
<g filter="url(#b1)">
<rect x="150" y="459.512" width="436" height="4.4" fill="#36c6f4" mask="url(#bandmask)"/>
</g>
<linearGradient id="strk" gradientUnits="userSpaceOnUse" x1="0" y1="387" x2="0" y2="625"><stop offset="0" stop-color="#fff" stop-opacity="0.15"/><stop offset="0.22" stop-color="#fff" stop-opacity="0.6"/><stop offset="0.45" stop-color="#fff" stop-opacity="0.9"/><stop offset="0.65" stop-color="#fff" stop-opacity="0.45"/><stop offset="1" stop-color="#fff" stop-opacity="0.6"/></linearGradient>
<mask id="strkm"><rect x="96" y="387" width="480" height="240" fill="url(#strk)"/></mask>
<g filter="url(#b1)" opacity="0.6" mask="url(#strkm)">
<rect x="290.51" y="387.5" width="3.5" height="237.10000000000002" fill="#4472c4"/>
<rect x="295.01" y="387.5" width="1.6" height="237.10000000000002" fill="#2f4f9c"/>
<rect x="297.51" y="387.5" width="3" height="237.10000000000002" fill="#4270c2"/>
</g>
<g filter="url(#b2)">
<ellipse cx="293.01" cy="459.712" rx="3" ry="15" fill="#2a88d2" opacity="0.8"/>
<ellipse cx="299.01" cy="464.712" rx="3" ry="14" fill="#2a88d2" opacity="0.7"/>
<ellipse cx="294.01" cy="491.712" rx="3" ry="25" fill="#3a6cc0" opacity="0.7"/>
</g>
<g filter="url(#b3)">
<ellipse cx="296.51" cy="609" rx="5" ry="10" fill="#1ca2e2"/>
</g>
<g filter="url(#b15)">
<path d="M297.01,610.5 L302.01,617.5 L297.51,624 L292.01,617.5 Z" fill="#14a84a"/>
</g>
<g filter="url(#b3)" opacity="0.8">
<path d="M198,536 L222,519" stroke="#2a90d8" stroke-width="5" fill="none"/>
<path d="M205,556 L232,575" stroke="#2f7cc8" stroke-width="5" fill="none"/>
</g>
<g filter="url(#b3)">
<path d="M97.0,487.0 L106.0,490.0 L114.0,491.5 L119.5,489.0 L121.5,472.0 L122.5,457.0 L134.0,457.0 L137.0,470.0 L142.0,488.0 L148.0,503.0 L153.0,515.0 L160.0,523.0 L175.0,520.0 L190.0,523.0 L200.0,532.0 L203.5,546.2 L197.0,556.0 L187.0,565.0 L172.0,575.0 L160.5,585.0 L152.5,595.0 L145.5,605.0 L133.0,611.5 L117.5,610.0 L105.0,602.0 L97.0,595.0 Z" fill="#1ab0ea"/>
<path d="M119,456 L136,456 L134,472 L121,472 Z" fill="#2a8ad4"/>
</g>
<g filter="url(#b4)">
</g>
<g filter="url(#b3)">
<ellipse cx="117.5" cy="521" rx="11" ry="15.5" fill="#3858aa"/>
</g>
<g filter="url(#b4)">
<path d="M152,484 L185,488 L188,510 L165,510 L154,503 Z" fill="#3a5cae"/>
</g>
<g filter="url(#b4)">
<path d="M97.0,544.0 L110.0,547.0 L122.0,541.0 L132.0,526.0 L140.0,520.0 L150.0,528.0 L162.0,536.0 L176.0,540.0 L190.0,534.0 L200.0,540.0 L198.0,550.0 L186.0,560.0 L172.0,570.0 L160.0,580.0 L150.0,590.0 L136.0,597.0 L120.0,598.0 L110.0,592.0 L106.0,578.0 L104.0,562.0 L98.0,552.0 Z" fill="#14ac90"/>
</g>
<g filter="url(#b3)">
<path d="M97.7,546.0 L105.9,549.5 L114.2,541.3 L124.1,533.0 L134.0,523.1 L142.2,521.5 L147.2,526.4 L150.5,533.0 L158.8,541.3 L165.4,545.0 L174.0,545.5 L182.0,543.0 L190.0,541.0 L194.0,545.0 L188.0,552.0 L178.0,558.0 L168.0,563.0 L158.8,567.7 L154.0,576.0 L152.0,586.0 L146.0,592.0 L138.0,596.0 L127.0,597.0 L116.0,594.0 L110.0,588.0 L107.0,578.0 L105.5,565.0 L102.0,555.0 L97.7,552.0 Z" fill="#0fa845"/>
</g>
<g filter="url(#b3)">
<path d="M184,540 L186,518 L192,514 L198,520 L199,540 Z" fill="#1aaee8"/>
<path d="M164,505 L183,505 L182,520 L168,518 Z" fill="#3a5cae"/>
</g>
<g filter="url(#b2)">
<ellipse cx="188" cy="543" rx="5" ry="5" fill="#15a04e"/>
</g>
<g filter="url(#b2)">
<path d="M109.4,586.1 L118.1,580.0 L126.9,572.0 L134.8,566.0 L141.8,563.6 L152.3,562.6 L157.5,562.8 L159.5,564.2 L155.0,567.0 L147.0,571.3 L140.0,576.3 L133.9,580.6 L126.9,584.0 L118.1,586.7 L110.3,587.2 Z" fill="#8cc83a" stroke="#8cc83a" stroke-width="4" stroke-linejoin="round"/>
</g>
<g filter="url(#b1)">
<path d="M109.4,586.1 L118.1,580.0 L126.9,572.0 L134.8,566.0 L141.8,563.6 L152.3,562.6 L157.5,562.8 L159.5,564.2 L155.0,567.0 L147.0,571.3 L140.0,576.3 L133.9,580.6 L126.9,584.0 L118.1,586.7 L110.3,587.2 Z" fill="#f2e41e" stroke="#f2e41e" stroke-width="1.2" stroke-linejoin="round"/>
<path d="M115.0,582.6 L123.0,577.2 L130.5,571.8 L138.0,567.3 L145.3,565.2 L151.0,564.9 L152.0,567.5 L144.0,571.8 L136.5,576.6 L129.0,580.8 L121.6,583.6 L116.0,584.6 Z" fill="#f08a22" stroke="#f08a22" stroke-width="1.6" stroke-linejoin="round"/>
</g>
<g filter="url(#b07)">
<path d="M115.0,582.6 L123.0,577.2 L130.5,571.8 L138.0,567.3 L145.3,565.2 L151.0,564.9 L152.0,567.5 L144.0,571.8 L136.5,576.6 L129.0,580.8 L121.6,583.6 L116.0,584.6 Z" fill="#e42424" stroke="#e42424" stroke-width="0.6" stroke-linejoin="round"/>
</g>
</g>
<g clip-path="url(#clipc)" fill="none" stroke="#dbe8fb" stroke-width="1.1" stroke-dasharray="2.2,1.5">
<line x1="96.3" y1="461.712" x2="571.6" y2="461.712" stroke="#90e0fa" stroke-width="1.7" stroke-dasharray="2,1.15"/>
<path d="M96.0,424.6 C98.8,424.2 106.8,423.4 112.5,422.0 C118.2,420.6 123.8,418.5 130.0,416.0 C136.2,413.5 144.2,409.9 150.0,407.0 C155.8,404.1 160.3,401.4 165.0,398.5 C169.7,395.6 175.3,391.3 178.0,389.4 C180.7,387.5 180.5,387.4 181.0,387.0"/>
<path d="M96.0,499.4 C98.8,499.9 106.8,500.8 112.5,502.2 C118.2,503.6 124.4,505.9 130.0,508.0 C135.6,510.1 141.0,512.2 146.0,515.0 C151.0,517.8 155.1,521.4 160.2,524.6 C165.2,527.8 171.5,531.2 176.3,534.3 C181.1,537.4 179.3,536.3 189.1,543.4 C198.9,550.5 217.0,563.4 235.2,576.7 C253.4,590.0 287.7,615.6 298.2,623.4"/>
<path d="M96.0,549.5 C98.7,548.8 106.7,547.9 112.0,545.5 C117.3,543.1 123.4,538.6 128.1,535.0 C132.8,531.4 136.6,527.5 140.0,524.1 C143.4,520.7 145.0,518.6 148.5,514.6 C152.0,510.6 156.4,505.5 161.0,500.0 C165.6,494.5 172.0,486.6 176.0,481.5 C180.0,476.4 180.9,475.6 185.0,469.7 C189.1,463.8 195.1,454.2 200.5,446.0 C205.9,437.8 211.1,430.1 217.6,420.5 C224.1,410.9 235.7,394.1 239.5,388.5 C243.3,382.9 240.3,387.2 240.5,387.0"/>
<clipPath id="coreclip"><polygon points="108,600 160,600 160,560 108,560"/></clipPath>
<clipPath id="nocoreclip"><path d="M90,380 H580 V630 H90 Z M110,600 L110,560 L158,560 L158,600 Z" clip-rule="evenodd"/></clipPath>
<path d="M96.0,586.5 C98.4,586.3 105.7,586.8 110.5,585.5 C115.3,584.2 120.1,581.3 125.0,579.0 C129.9,576.7 134.5,574.1 140.0,571.5 C145.5,568.9 152.3,566.7 157.8,563.6 C163.3,560.5 167.9,556.2 173.1,552.7 C178.3,549.2 183.6,545.7 189.1,542.3 C194.6,538.9 194.2,541.0 206.0,532.5 C217.8,524.0 244.8,502.8 260.0,491.0 C275.2,479.2 285.8,470.8 297.5,461.7 C309.2,452.6 314.1,448.8 330.0,436.4 C345.9,424.0 382.5,395.6 393.0,387.4" clip-path="url(#nocoreclip)"/>
<path d="M96.0,586.5 C98.4,586.3 105.7,586.8 110.5,585.5 C115.3,584.2 120.1,581.3 125.0,579.0 C129.9,576.7 134.5,574.1 140.0,571.5 C145.5,568.9 152.3,566.7 157.8,563.6 C163.3,560.5 167.9,556.2 173.1,552.7 C178.3,549.2 183.6,545.7 189.1,542.3 C194.6,538.9 194.2,541.0 206.0,532.5 C217.8,524.0 244.8,502.8 260.0,491.0 C275.2,479.2 285.8,470.8 297.5,461.7 C309.2,452.6 314.1,448.8 330.0,436.4 C345.9,424.0 382.5,395.6 393.0,387.4" clip-path="url(#coreclip)" stroke="#f8d0c0" opacity="0.75"/>
<path d="M298.2,623.4 L572,408.8"/>
</g></g>
<rect x="96.3" y="387.5" width="475.3" height="237.10000000000002" fill="none" stroke="#111" stroke-width="2"/>
<line x1="96.3" y1="624.6" x2="96.3" y2="634.6" stroke="#111" stroke-width="2"/>
<text x="96.3" y="659.5" font-size="21.5" text-anchor="middle" >0</text>
<line x1="143.8" y1="624.6" x2="143.8" y2="630.1" stroke="#111" stroke-width="2"/>
<line x1="191.4" y1="624.6" x2="191.4" y2="634.6" stroke="#111" stroke-width="2"/>
<text x="191.4" y="659.5" font-size="21.5" text-anchor="middle" >200</text>
<line x1="238.9" y1="624.6" x2="238.9" y2="630.1" stroke="#111" stroke-width="2"/>
<line x1="286.5" y1="624.6" x2="286.5" y2="634.6" stroke="#111" stroke-width="2"/>
<text x="286.5" y="659.5" font-size="21.5" text-anchor="middle" >400</text>
<line x1="334.1" y1="624.6" x2="334.1" y2="630.1" stroke="#111" stroke-width="2"/>
<line x1="381.6" y1="624.6" x2="381.6" y2="634.6" stroke="#111" stroke-width="2"/>
<text x="381.6" y="659.5" font-size="21.5" text-anchor="middle" >600</text>
<line x1="429.1" y1="624.6" x2="429.1" y2="630.1" stroke="#111" stroke-width="2"/>
<line x1="476.7" y1="624.6" x2="476.7" y2="634.6" stroke="#111" stroke-width="2"/>
<text x="476.7" y="659.5" font-size="21.5" text-anchor="middle" >800</text>
<line x1="524.2" y1="624.6" x2="524.2" y2="630.1" stroke="#111" stroke-width="2"/>
<line x1="571.8" y1="624.6" x2="571.8" y2="634.6" stroke="#111" stroke-width="2"/>
<text x="571.8" y="659.5" font-size="21.5" text-anchor="middle" >1,000</text>
<line x1="86.3" y1="624.6" x2="96.3" y2="624.6" stroke="#111" stroke-width="2"/>
<text x="77.5" y="632.1" font-size="21.5" text-anchor="end" >0</text>
<line x1="90.8" y1="590.7" x2="96.3" y2="590.7" stroke="#111" stroke-width="2"/>
<line x1="86.3" y1="556.7" x2="96.3" y2="556.7" stroke="#111" stroke-width="2"/>
<text x="77.5" y="564.2" font-size="21.5" text-anchor="end" >1</text>
<line x1="90.8" y1="522.8" x2="96.3" y2="522.8" stroke="#111" stroke-width="2"/>
<line x1="86.3" y1="488.9" x2="96.3" y2="488.9" stroke="#111" stroke-width="2"/>
<text x="77.5" y="496.4" font-size="21.5" text-anchor="end" >2</text>
<line x1="90.8" y1="454.9" x2="96.3" y2="454.9" stroke="#111" stroke-width="2"/>
<line x1="86.3" y1="421.0" x2="96.3" y2="421.0" stroke="#111" stroke-width="2"/>
<text x="77.5" y="428.5" font-size="21.5" text-anchor="end" >3</text>
<text x="335.1" y="690.8" font-size="21.5" text-anchor="middle"><tspan font-style="italic">B</tspan> (gauss)</text>
<text transform="translate(50,506) rotate(-90)" font-size="21.5" text-anchor="middle">Frequency (GHz)</text>
<defs><linearGradient id="cb" x1="0" y1="1" x2="0" y2="0"><stop offset="0" stop-color="#3a48a0"/><stop offset="0.12" stop-color="#3858a8"/><stop offset="0.2" stop-color="#2a78c8"/><stop offset="0.27" stop-color="#12aee8"/><stop offset="0.33" stop-color="#10b0c0"/><stop offset="0.39" stop-color="#10a852"/><stop offset="0.57" stop-color="#12a848"/><stop offset="0.66" stop-color="#84c23a"/><stop offset="0.745" stop-color="#f4e41e"/><stop offset="0.83" stop-color="#f39028"/><stop offset="0.92" stop-color="#e83a30"/><stop offset="1" stop-color="#e43030"/></linearGradient></defs>
<rect x="574.7" y="392.9" width="7" height="125" fill="url(#cb)"/>
<text x="589.5" y="404.5" font-size="21.5" text-anchor="start" >1.00</text>
<text x="589.5" y="434.6" font-size="21.5" text-anchor="start" >0.75</text>
<text x="589.5" y="464.7" font-size="21.5" text-anchor="start" >0.50</text>
<text x="589.5" y="494.8" font-size="21.5" text-anchor="start" >0.25</text>
<text x="589.5" y="524.9" font-size="21.5" text-anchor="start" >0.00</text>
<text transform="translate(645,458) rotate(90)" font-size="21.5" text-anchor="middle">Amplitude</text>
</svg></body></html>
